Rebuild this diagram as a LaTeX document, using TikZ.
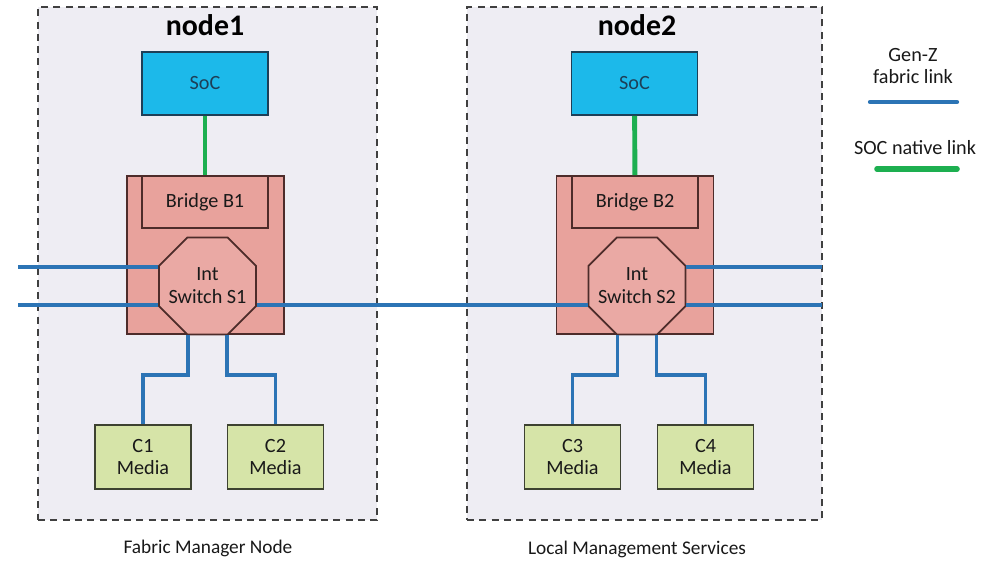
\documentclass[tikz,border=0pt]{standalone}
\usepackage{fontspec}
\setmainfont{Carlito}
\usetikzlibrary{shapes.geometric}
\definecolor{panelbg}{HTML}{EEEDF3}
\definecolor{socfill}{HTML}{1CB9EA}
\definecolor{socedge}{HTML}{1D3F57}
\definecolor{pinkfill}{HTML}{E8A29C}
\definecolor{pinkedge}{HTML}{4D2C2A}
\definecolor{mediafill}{HTML}{D6E4A8}
\definecolor{mediaedge}{HTML}{3D4230}
\definecolor{genzblue}{HTML}{2C74B5}
\definecolor{socgreen}{HTML}{1DAF50}
\begin{document}
\begin{tikzpicture}[x=0.02cm,y=-0.02cm,
        font=\fontsize{11.5}{13}\selectfont,
        panel/.style={draw=black!75,dash pattern=on 4pt off 3pt,fill=panelbg,line width=0.7pt,minimum height=10.26cm},
        title/.style={font=\fontsize{17}{20}\selectfont\bfseries},
        socbox/.style={draw=socedge,fill=socfill,line width=1pt,minimum width=2.52cm,minimum height=1.26cm,text=socedge},
        hostbox/.style={draw=pinkedge,fill=pinkfill,line width=1pt,minimum width=3.14cm,minimum height=3.16cm},
        bridgebox/.style={draw=pinkedge,fill=pinkfill,line width=1pt,minimum width=2.52cm,minimum height=1.04cm,text=black!90},
        switchbox/.style={draw=pinkedge,fill=pinkfill!92!white,line width=1pt,regular polygon,regular polygon sides=8,minimum size=2.1cm,inner sep=0pt},
        switchtext/.style={align=center,text=black!90},
        mediabox/.style={draw=mediaedge,fill=mediafill,line width=1pt,minimum width=1.92cm,minimum height=1.28cm,align=center,text=black!90},
        genz/.style={draw=genzblue,line width=1.9pt},
        soclink/.style={draw=socgreen,line width=2.8pt},
        caption/.style={font=\fontsize{11}{13}\selectfont,text=black!90}]

    \fill[white] (0,0) rectangle (996,561);
    \useasboundingbox (0,0) rectangle (996,561);

    % the two boxes
    \node[panel,minimum width=6.78cm] (P1) at (207.5,263.5) {};
    \node[panel,minimum width=7.1cm] (P2) at (644.5,263.5) {};
    \node[title] (T1) at (205,25) {node1};
    \node[title] (T2) at (637,25) {node2};

    % node1
    \node[socbox] (SoC1) at (205,83.5) {SoC};
    \node[hostbox] (H1) at (205.5,255) {};
    \node[bridgebox] (B1) at (205,202) {Bridge B1};
    \node[switchbox,label={[switchtext]center:Int\\Switch S1}] (S1) at (207.5,286) {};
    \node[mediabox] (C1) at (143,457) {C1\\Media};
    \node[mediabox] (C2) at (275.5,457) {C2\\Media};

    % node2
    \node[socbox] (SoC2) at (634.5,83.5) {SoC};
    \node[hostbox] (H2) at (635,255) {};
    \node[bridgebox] (B2) at (635,202) {Bridge B2};
    \node[switchbox,label={[switchtext]center:Int\\Switch S2}] (S2) at (637,286) {};
    \node[mediabox] (C3) at (572.5,457) {C3\\Media};
    \node[mediabox] (C4) at (705.5,457) {C4\\Media};

    \node[caption] (F1) at (208,548) {Fabric Manager Node};
    \node[caption] (F2) at (637,549) {Local Management Services};

    % links
    \draw[soclink] (SoC1) -- (B1);
    \draw[soclink] (SoC2) -- (B2);

    \coordinate (L1) at (18,267);
    \coordinate (L2) at (18,305);
    \coordinate (R1) at (822,267);
    \coordinate (R2) at (822,305);
    \coordinate (bus) at (0,375);

    \draw[genz] (L1) -- (L1 -| S1.west);
    \draw[genz] (L2) -- (L2 -| S1.west);
    \draw[genz] (S1.east |- L2) -- (S2.west |- L2);
    \draw[genz] (S2.east |- R1) -- (R1);
    \draw[genz] (S2.east |- R2) -- (R2);

    \draw[genz] ([xshift=-0.39cm]S1.south) |- (C1.north |- bus) -- (C1.north);
    \draw[genz] ([xshift=0.39cm]S1.south) |- (C2.north |- bus) -- (C2.north);
    \draw[genz] ([xshift=-0.39cm]S2.south) |- (C3.north |- bus) -- (C3.north);
    \draw[genz] ([xshift=0.39cm]S2.south) |- (C4.north |- bus) -- (C4.north);

    % legend
    \node[align=center,text=black!90] (K1) at (913,66) {Gen-Z\\fabric link};
    \coordinate (k1a) at (870,102);
    \coordinate (k1b) at (957,102);
    \draw[genz,line width=2.4pt,line cap=round] (k1a) -- (k1b);
    \node[text=black!90] (K2) at (915,148) {SOC native link};
    \coordinate (k2a) at (877,169);
    \coordinate (k2b) at (957,169);
    \draw[soclink,line width=3.2pt,line cap=round] (k2a) -- (k2b);
\end{tikzpicture}
\end{document}
